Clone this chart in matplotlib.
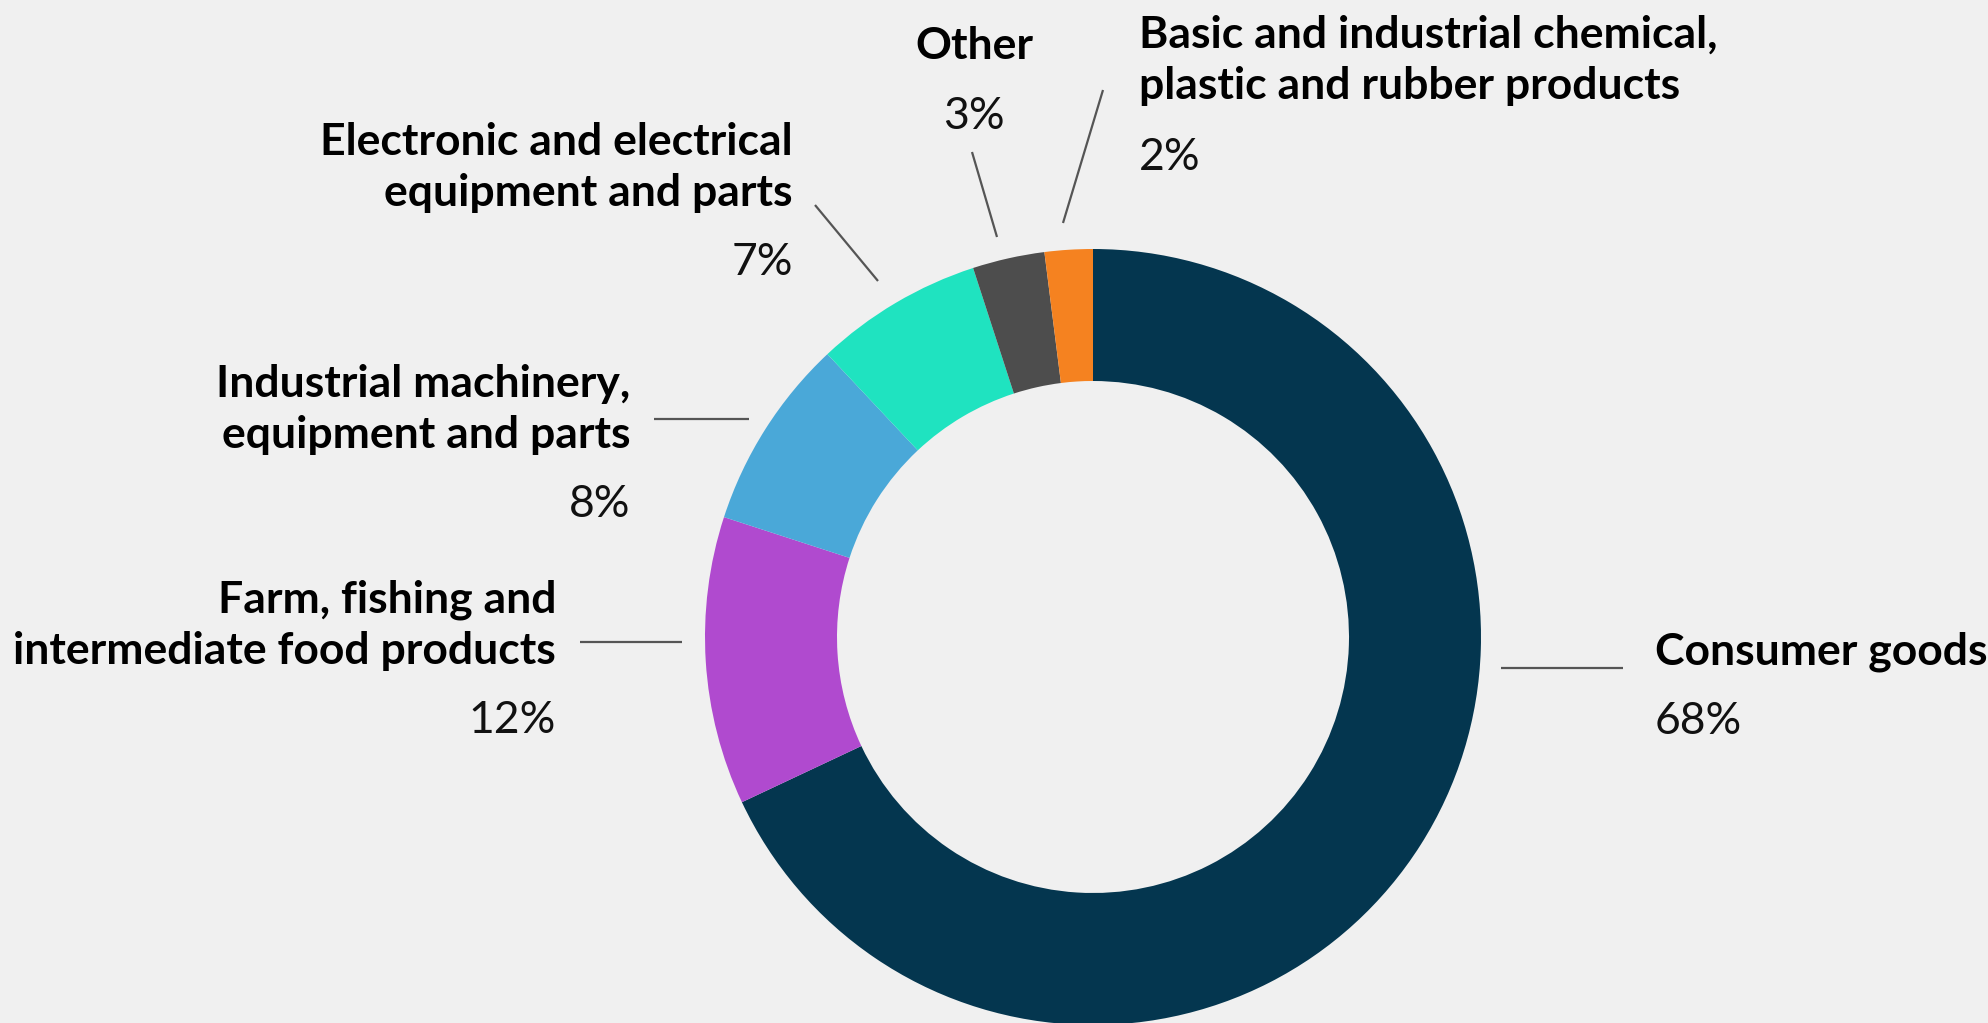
import matplotlib.pyplot as plt

# shares of exports by product group (percent), clockwise from 12 o'clock
categories = ['Consumer goods',
              'Farm, fishing and\nintermediate food products',
              'Industrial machinery,\nequipment and parts',
              'Electronic and electrical\nequipment and parts',
              'Other',
              'Basic and industrial chemical,\nplastic and rubber products']
values = [68, 12, 8, 7, 3, 2]
colors = ['#04364F', '#B04ACF', '#4AA8D8', '#1FE3C0', '#4D4D4D', '#F58220']

W, H = 1988, 1023
bg = '#F0F0F0'

# label placement in pixel space (y measured from top):
# x anchor, alignment, baseline of first line, baseline of percent, leader line
label_x = [1655, 556, 630, 793, 974, 1139]
label_ha = ['left', 'right', 'right', 'right', 'center', 'left']
label_y = [665, 613, 397, 155, 59, 48]
pct_y = [734, 733, 517, 275, 129, 170]
leaders = [((1501, 668), (1623, 668)),
           ((580, 642), (682, 642)),
           ((654, 419), (749, 419)),
           ((815, 205), (878, 281)),
           ((972, 152), (997, 237)),
           ((1103, 90), (1063, 223))]
line_gap = 51

fig = plt.figure(figsize=(W / 100, H / 100), dpi=100, facecolor=bg)
ax = fig.add_axes([0, 0, 1, 1])
ax.set_facecolor(bg)

ax.pie(values, colors=colors, startangle=90, counterclock=False,
       radius=388, center=(1093, H - 637),
       wedgeprops=dict(width=132, linewidth=0))

ax.set_xlim(0, W)
ax.set_ylim(0, H)
ax.set_aspect('equal')
ax.axis('off')

for i, cat in enumerate(categories):
    for j, line in enumerate(cat.split('\n')):
        ax.text(label_x[i], H - (label_y[i] + j * line_gap), line,
                ha=label_ha[i], va='baseline', fontsize=32,
                family='Lato', fontweight='bold', color='#000000')
    ax.text(label_x[i], H - pct_y[i], '%d%%' % values[i],
            ha=label_ha[i], va='baseline', fontsize=32,
            family='Lato', fontweight='normal', color='#111111')
    (x0, y0), (x1, y1) = leaders[i]
    ax.plot([x0, x1], [H - y0, H - y1], color='#555555', lw=1.6,
            solid_capstyle='butt')

fig.savefig('out.png', dpi=100, facecolor=bg)
